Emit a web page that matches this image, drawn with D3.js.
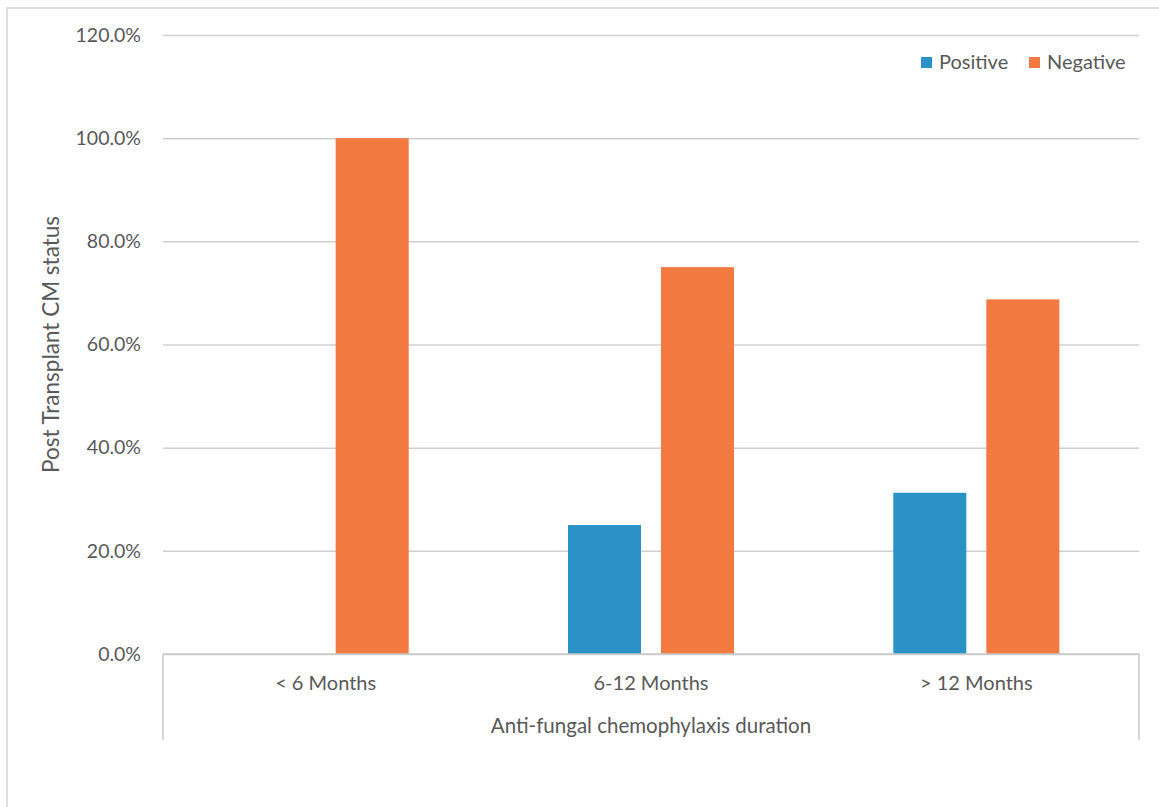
<!DOCTYPE html>
<html><head><meta charset="utf-8">
<script src="https://cdn.jsdelivr.net/npm/d3@7"></script>
<style>
html,body{margin:0;padding:0;background:#fff;}
text{font-family:Lato,"Open Sans",sans-serif;fill:#595959;}
</style></head>
<body><svg id="c" width="1159" height="807"></svg>
<script>
const categories = ["< 6 Months", "6-12 Months", "> 12 Months"];
const seriesNames = ["Positive", "Negative"];
const positive = [0, 0.25, 0.3125];
const negative = [1.0, 0.75, 0.6875];
const yTicks = [0, 0.2, 0.4, 0.6, 0.8, 1.0, 1.2];
const colors = ["#2A92C6", "#F27A40"];

(function(){
const svg = d3.select("#c");
const pL = 163, pR = 1139, pT = 35, pB = 654;

svg.append("rect").attr("x",7).attr("y",8).attr("width",1160).attr("height",820)
  .attr("fill","none").attr("stroke","#d4d4d4").attr("stroke-width",1.5);

const y = d3.scaleLinear().domain([0,1.2]).range([pB, pT]);
const x0 = d3.scaleBand().domain(categories).range([pL, pR]).padding(0);
const x1 = d3.scaleBand().domain(seriesNames).range([0, x0.bandwidth()]).paddingInner(0.215).paddingOuter(0.856);

const yAxis = d3.axisLeft(y).tickValues(yTicks).tickSize(-(pR-pL)).tickPadding(22)
  .tickFormat(d3.format(".1%"));
const gy = svg.append("g").attr("transform",`translate(${pL},0)`).call(yAxis);
gy.select(".domain").remove();
gy.selectAll(".tick line").attr("stroke","#d0d0d0").attr("stroke-width",1.5);
gy.selectAll(".tick text").attr("font-size",19.5).attr("font-family",null).style("fill","#595959");

const data = categories.map((c,i)=>({cat:c, vals:[positive[i], negative[i]]}));
const g = svg.append("g");
g.selectAll("g.grp").data(data).join("g").attr("class","grp")
  .attr("transform", d=>`translate(${x0(d.cat)},0)`)
  .selectAll("rect").data(d=>d.vals.map((v,j)=>({s:seriesNames[j], v, j})))
  .join("rect")
  .attr("x", d=>x1(d.s)).attr("width", x1.bandwidth())
  .attr("y", d=>y(d.v)).attr("height", d=>pB - y(d.v))
  .attr("fill", d=>colors[d.j]);

svg.append("line").attr("x1",pL).attr("x2",pR).attr("y1",pB).attr("y2",pB)
  .attr("stroke","#c8c8c8").attr("stroke-width",1.5);
[pL, pR].forEach(xx=>{
  svg.append("line").attr("x1",xx).attr("x2",xx).attr("y1",pB).attr("y2",740)
    .attr("stroke","#c8c8c8").attr("stroke-width",1.5);
});
svg.selectAll("text.cat").data(categories).join("text").attr("class","cat")
  .attr("x", d=>x0(d)+x0.bandwidth()/2).attr("y",690)
  .attr("text-anchor","middle").attr("font-size",20).text(d=>d);

svg.append("text").attr("x",(pL+pR)/2).attr("y",733).attr("text-anchor","middle")
  .attr("font-size",20.5).text("Anti-fungal chemophylaxis duration");

svg.append("text").attr("transform",`translate(59,${(pT+pB)/2}) rotate(-90)`)
  .attr("text-anchor","middle").attr("font-size",22.5).text("Post Transplant CM status");

const legX = [921, 1029];
const lg = svg.selectAll("g.leg").data(seriesNames).join("g").attr("class","leg")
  .attr("transform",(d,i)=>`translate(${legX[i]},0)`);
lg.append("rect").attr("x",0).attr("y",57).attr("width",11).attr("height",11).attr("fill",(d,i)=>colors[i]);
lg.append("text").attr("x",18).attr("y",69).attr("font-size",20).text(d=>d);
})();
</script></body></html>
